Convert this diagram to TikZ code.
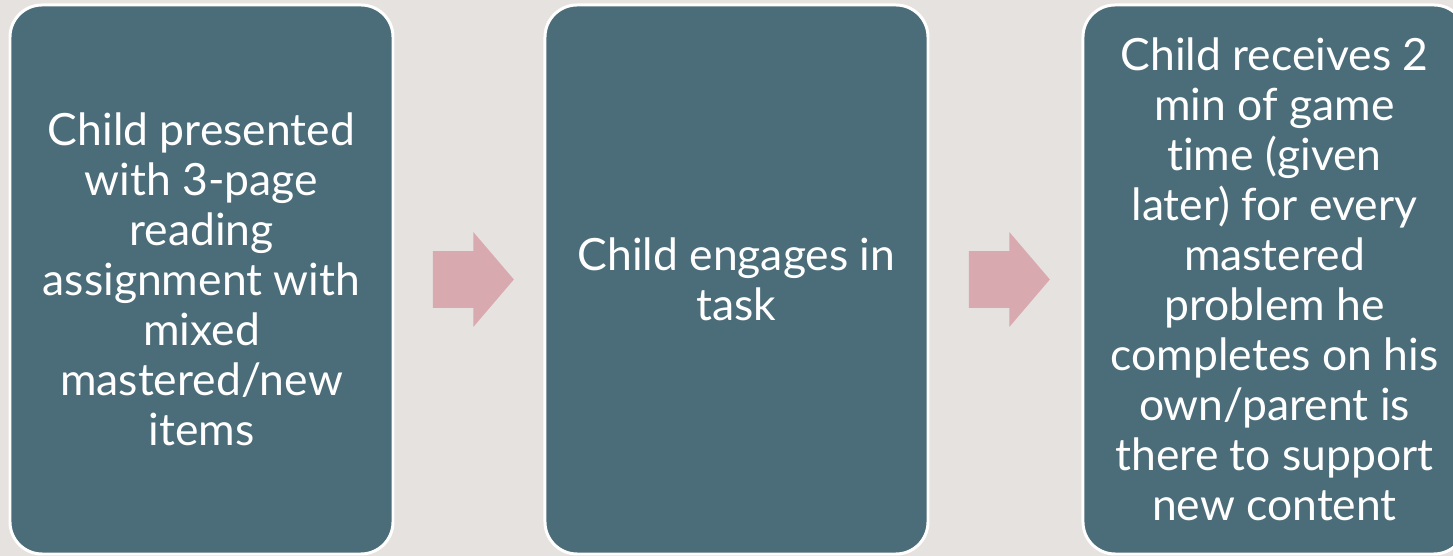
\documentclass[tikz,border=0pt]{standalone}
\usepackage{fontspec}
\setmainfont{Lato}[Ligatures=NoCommon]
\usetikzlibrary{positioning,shapes.arrows,calc}
\definecolor{pagebg}{HTML}{E5E2DF}
\definecolor{stepfill}{HTML}{4B6C79}
\definecolor{arrowfill}{HTML}{D9A9B0}

\begin{document}
\begin{tikzpicture}[
  stepbox/.style={rounded corners=0.64cm, draw=white, line width=1.7pt, fill=stepfill,
    text=white, align=center, minimum width=7.66cm, minimum height=10.98cm, inner sep=0pt,
    font=\fontsize{25.3}{28.45}\selectfont},
  nextarrow/.style={single arrow, fill=arrowfill, draw=none, minimum height=1.62cm,
    inner xsep=0pt, inner ysep=0.56cm, single arrow head extend=0.38cm,
    single arrow tip angle=99, anchor=tail},
]
% page background
\fill[pagebg] (0,0) rectangle (29.06,11.12);
\useasboundingbox (0,0) rectangle (29.06,11.12);

% ===== the three steps =====
\node[stepbox] (present) at (4.03,5.53)
  {Child presented\\with 3-page\\reading\\assignment with\\mixed\\mastered/new\\items};
\node[stepbox, right=2.98cm of present] (engage)
  {Child engages in\\task};
\node[stepbox, right=3.04cm of engage] (reward)
  {Child receives 2\\min of game\\time (given\\later) for every\\mastered\\problem he\\completes on his\\own/parent is\\there to support\\new content};

% ===== arrows between steps =====
\node[nextarrow] (a1) at ([xshift=0.76cm]present.east) {};
\node[nextarrow] (a2) at ([xshift=0.78cm]engage.east) {};

\end{tikzpicture}
\end{document}
